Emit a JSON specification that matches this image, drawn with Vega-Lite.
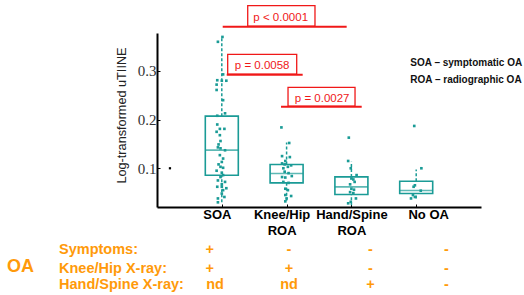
{
  "$schema": "https://vega.github.io/schema/vega-lite/v6.json",
  "width": 324,
  "height": 174,
  "autosize": {"type": "none"},
  "padding": {"left": 157, "top": 33, "right": 43, "bottom": 88},
  "background": "white",
  "config": {"view": {"stroke": null}, "font": "Liberation Sans", "scale": {"continuousPadding": 0}},
  "datasets": {
    "boxes": [
      {"group": "SOA", "x": 1, "lo": 0.0303, "q1": 0.0858, "med": 0.1373, "q3": 0.2072, "hi": 0.3698},
      {"group": "Knee/Hip ROA", "x": 2, "lo": 0.033, "q1": 0.07, "med": 0.0893, "q3": 0.1078, "hi": 0.153},
      {"group": "Hand/Spine ROA", "x": 3, "lo": 0.0241, "q1": 0.0461, "med": 0.0617, "q3": 0.0823, "hi": 0.1132},
      {"group": "No OA", "x": 4, "lo": 0.0379, "q1": 0.0482, "med": 0.0543, "q3": 0.0734, "hi": 0.0976}
    ],
    "points": [
      {"group": "SOA", "x": 1.01, "v": 0.370},
      {"group": "SOA", "x": 0.94, "v": 0.360},
      {"group": "SOA", "x": 1.02, "v": 0.293},
      {"group": "SOA", "x": 0.93, "v": 0.281},
      {"group": "SOA", "x": 1.0, "v": 0.280},
      {"group": "SOA", "x": 1.07, "v": 0.280},
      {"group": "SOA", "x": 0.92, "v": 0.272},
      {"group": "SOA", "x": 0.92, "v": 0.261},
      {"group": "SOA", "x": 1.02, "v": 0.240},
      {"group": "SOA", "x": 1.05, "v": 0.213},
      {"group": "SOA", "x": 0.93, "v": 0.208},
      {"group": "SOA", "x": 0.93, "v": 0.190},
      {"group": "SOA", "x": 0.97, "v": 0.181},
      {"group": "SOA", "x": 1.04, "v": 0.181},
      {"group": "SOA", "x": 0.92, "v": 0.175},
      {"group": "SOA", "x": 0.97, "v": 0.168},
      {"group": "SOA", "x": 0.98, "v": 0.156},
      {"group": "SOA", "x": 0.95, "v": 0.149},
      {"group": "SOA", "x": 0.94, "v": 0.143},
      {"group": "SOA", "x": 0.98, "v": 0.141},
      {"group": "SOA", "x": 1.05, "v": 0.137},
      {"group": "SOA", "x": 0.97, "v": 0.127},
      {"group": "SOA", "x": 1.02, "v": 0.120},
      {"group": "SOA", "x": 1.0, "v": 0.113},
      {"group": "SOA", "x": 0.95, "v": 0.108},
      {"group": "SOA", "x": 0.98, "v": 0.103},
      {"group": "SOA", "x": 1.02, "v": 0.101},
      {"group": "SOA", "x": 0.92, "v": 0.095},
      {"group": "SOA", "x": 1.0, "v": 0.091},
      {"group": "SOA", "x": 1.02, "v": 0.086},
      {"group": "SOA", "x": 0.98, "v": 0.082},
      {"group": "SOA", "x": 0.94, "v": 0.075},
      {"group": "SOA", "x": 1.05, "v": 0.072},
      {"group": "SOA", "x": 1.0, "v": 0.067},
      {"group": "SOA", "x": 0.93, "v": 0.062},
      {"group": "SOA", "x": 1.0, "v": 0.062},
      {"group": "SOA", "x": 1.07, "v": 0.059},
      {"group": "SOA", "x": 1.02, "v": 0.055},
      {"group": "SOA", "x": 1.0, "v": 0.048},
      {"group": "SOA", "x": 1.04, "v": 0.041},
      {"group": "SOA", "x": 0.94, "v": 0.038},
      {"group": "SOA", "x": 0.94, "v": 0.030},
      {"group": "Knee/Hip ROA", "x": 1.92, "v": 0.184},
      {"group": "Knee/Hip ROA", "x": 2.04, "v": 0.152},
      {"group": "Knee/Hip ROA", "x": 1.93, "v": 0.125},
      {"group": "Knee/Hip ROA", "x": 2.05, "v": 0.123},
      {"group": "Knee/Hip ROA", "x": 1.98, "v": 0.115},
      {"group": "Knee/Hip ROA", "x": 1.93, "v": 0.110},
      {"group": "Knee/Hip ROA", "x": 1.97, "v": 0.108},
      {"group": "Knee/Hip ROA", "x": 2.07, "v": 0.106},
      {"group": "Knee/Hip ROA", "x": 2.02, "v": 0.103},
      {"group": "Knee/Hip ROA", "x": 1.95, "v": 0.100},
      {"group": "Knee/Hip ROA", "x": 1.97, "v": 0.093},
      {"group": "Knee/Hip ROA", "x": 2.03, "v": 0.090},
      {"group": "Knee/Hip ROA", "x": 1.93, "v": 0.082},
      {"group": "Knee/Hip ROA", "x": 2.08, "v": 0.084},
      {"group": "Knee/Hip ROA", "x": 1.98, "v": 0.081},
      {"group": "Knee/Hip ROA", "x": 1.95, "v": 0.072},
      {"group": "Knee/Hip ROA", "x": 2.03, "v": 0.070},
      {"group": "Knee/Hip ROA", "x": 1.98, "v": 0.058},
      {"group": "Knee/Hip ROA", "x": 2.02, "v": 0.055},
      {"group": "Knee/Hip ROA", "x": 2.07, "v": 0.043},
      {"group": "Knee/Hip ROA", "x": 1.98, "v": 0.045},
      {"group": "Knee/Hip ROA", "x": 2.0, "v": 0.038},
      {"group": "Knee/Hip ROA", "x": 1.98, "v": 0.032},
      {"group": "Hand/Spine ROA", "x": 2.96, "v": 0.163},
      {"group": "Hand/Spine ROA", "x": 2.95, "v": 0.115},
      {"group": "Hand/Spine ROA", "x": 2.99, "v": 0.100},
      {"group": "Hand/Spine ROA", "x": 3.08, "v": 0.086},
      {"group": "Hand/Spine ROA", "x": 3.0, "v": 0.079},
      {"group": "Hand/Spine ROA", "x": 3.03, "v": 0.077},
      {"group": "Hand/Spine ROA", "x": 3.05, "v": 0.072},
      {"group": "Hand/Spine ROA", "x": 2.98, "v": 0.067},
      {"group": "Hand/Spine ROA", "x": 3.0, "v": 0.058},
      {"group": "Hand/Spine ROA", "x": 3.04, "v": 0.056},
      {"group": "Hand/Spine ROA", "x": 2.98, "v": 0.051},
      {"group": "Hand/Spine ROA", "x": 3.03, "v": 0.049},
      {"group": "Hand/Spine ROA", "x": 3.07, "v": 0.038},
      {"group": "Hand/Spine ROA", "x": 2.99, "v": 0.031},
      {"group": "Hand/Spine ROA", "x": 2.95, "v": 0.028},
      {"group": "No OA", "x": 3.97, "v": 0.187},
      {"group": "No OA", "x": 4.08, "v": 0.100},
      {"group": "No OA", "x": 3.98, "v": 0.065},
      {"group": "No OA", "x": 3.96, "v": 0.062},
      {"group": "No OA", "x": 4.07, "v": 0.054},
      {"group": "No OA", "x": 3.98, "v": 0.041},
      {"group": "No OA", "x": 3.95, "v": 0.045},
      {"group": "No OA", "x": 3.92, "v": 0.038}
    ],
    "stray": [{"x": 0.2, "v": 0.1}],
    "pboxes": [
      {"label": "p < 0.0001", "x1": 1.400, "x2": 2.438, "y1": 0.4342, "y2": 0.3924, "lx1": 1.014, "lx2": 2.927, "ly": 0.3910, "tx": 1.909, "ty": 0.4033},
      {"label": "p = 0.0058", "x1": 1.091, "x2": 2.156, "y1": 0.3342, "y2": 0.2936, "lx1": 1.076, "lx2": 2.248, "ly": 0.2922, "tx": 1.623, "ty": 0.3033},
      {"label": "p = 0.0027", "x1": 2.022, "x2": 3.056, "y1": 0.2663, "y2": 0.2278, "lx1": 1.914, "lx2": 3.159, "ly": 0.2264, "tx": 2.549, "ty": 0.2360}
    ],
    "notes": [
      {"text": "SOA – symptomatic OA", "x": 3.909, "v": 0.3107},
      {"text": "ROA – radiographic OA", "x": 3.909, "v": 0.2745}
    ],
    "rowlabels": [
      {"text": "Symptoms:", "x": -1.512, "v": -0.0767},
      {"text": "Knee/Hip X-ray:", "x": -1.512, "v": -0.1148},
      {"text": "Hand/Spine X-ray:", "x": -1.512, "v": -0.1487}
    ],
    "oa": [{"text": "OA", "x": -2.315, "v": -0.1131}],
    "cells": [
      {"text": "+", "x": 0.813, "v": -0.0767},
      {"text": "+", "x": 0.813, "v": -0.1148},
      {"text": "nd", "x": 0.895, "v": -0.1487},
      {"text": "-", "x": 2.037, "v": -0.0767},
      {"text": "+", "x": 2.037, "v": -0.1148},
      {"text": "nd", "x": 2.037, "v": -0.1487},
      {"text": "-", "x": 3.295, "v": -0.0767},
      {"text": "-", "x": 3.295, "v": -0.1148},
      {"text": "+", "x": 3.295, "v": -0.1487},
      {"text": "-", "x": 4.465, "v": -0.0767},
      {"text": "-", "x": 4.465, "v": -0.1148},
      {"text": "-", "x": 4.465, "v": -0.1487}
    ]
  },
  "layer": [
    {
      "data": {"name": "boxes"},
      "mark": {"type": "rule", "color": "#1a9b96", "strokeWidth": 1.5, "strokeDash": [3, 2]},
      "encoding": {
        "x": {"field": "x", "type": "quantitative", "scale": {"domain": [0, 5], "nice": false, "zero": false, "padding": 0},
          "axis": {"values": [1, 2, 3, 4], "title": null, "domainColor": "black", "domainWidth": 2, "tickColor": "black", "tickSize": -3, "tickWidth": 1, "grid": false,
            "labelExpr": "datum.value == 1 ? 'SOA' : datum.value == 2 ? ['Knee/Hip', 'ROA'] : datum.value == 3 ? ['Hand/Spine', 'ROA'] : 'No OA'",
            "labelFont": "Liberation Sans", "labelFontWeight": "bold", "labelFontSize": 13, "labelColor": "black", "labelPadding": 4, "labelLineHeight": 16, "labelBaseline": "top",
            "labelOffset": {"condition": [{"test": "datum.value == 4", "value": 12}, {"test": "datum.value == 3", "value": 0}], "value": -5}}},
        "y": {"field": "lo", "type": "quantitative", "scale": {"domain": [0.0204, 0.3781], "nice": false, "zero": false, "padding": 0},
          "axis": {"values": [0.1, 0.2, 0.3], "format": ".1f", "title": "Log-transformed uTIINE", "domainColor": "black", "domainWidth": 2, "tickColor": "black", "tickSize": -3, "tickWidth": 1, "grid": false,
            "labelFont": "Liberation Serif", "labelFontSize": 15, "labelColor": "#333333", "labelPadding": 4,
            "titleFont": "Liberation Sans", "titleFontSize": 12.7, "titleFontWeight": "normal", "titleColor": "#222222", "titlePadding": 9, "titleY": 82}},
        "y2": {"field": "q1"}
      }
    },
    {
      "data": {"name": "boxes"},
      "mark": {"type": "rule", "color": "#1a9b96", "strokeWidth": 1.5, "strokeDash": [3, 2]},
      "encoding": {
        "x": {"field": "x", "type": "quantitative"},
        "y": {"field": "q3", "type": "quantitative"},
        "y2": {"field": "hi"}
      }
    },
    {
      "data": {"name": "boxes"},
      "mark": {"type": "bar", "size": 33, "fill": "white", "fillOpacity": 0, "stroke": "#1a9b96", "strokeWidth": 1.6},
      "encoding": {
        "x": {"field": "x", "type": "quantitative"},
        "y": {"field": "q1", "type": "quantitative"},
        "y2": {"field": "q3"}
      }
    },
    {
      "data": {"name": "boxes"},
      "mark": {"type": "tick", "orient": "horizontal", "size": 33, "thickness": 1.6, "color": "#1a9b96"},
      "encoding": {
        "x": {"field": "x", "type": "quantitative"},
        "y": {"field": "med", "type": "quantitative"}
      }
    },
    {
      "data": {"name": "points"},
      "mark": {"type": "square", "size": 7, "filled": true, "opacity": 1, "color": "#1a9b96"},
      "encoding": {
        "x": {"field": "x", "type": "quantitative"},
        "y": {"field": "v", "type": "quantitative"}
      }
    },
    {
      "data": {"name": "stray"},
      "mark": {"type": "square", "size": 5, "filled": true, "opacity": 1, "color": "black"},
      "encoding": {
        "x": {"field": "x", "type": "quantitative"},
        "y": {"field": "v", "type": "quantitative"}
      }
    },
    {
      "data": {"name": "pboxes"},
      "mark": {"type": "rect", "fill": "white", "stroke": "#f01818", "strokeWidth": 1.3},
      "encoding": {
        "x": {"field": "x1", "type": "quantitative"},
        "x2": {"field": "x2"},
        "y": {"field": "y1", "type": "quantitative"},
        "y2": {"field": "y2"}
      }
    },
    {
      "data": {"name": "pboxes"},
      "mark": {"type": "rule", "color": "#f01818", "strokeWidth": 2},
      "encoding": {
        "x": {"field": "lx1", "type": "quantitative"},
        "x2": {"field": "lx2"},
        "y": {"field": "ly", "type": "quantitative"}
      }
    },
    {
      "data": {"name": "pboxes"},
      "mark": {"type": "text", "color": "#f01818", "font": "Liberation Sans", "fontSize": 11.5, "align": "center", "baseline": "alphabetic"},
      "encoding": {
        "x": {"field": "tx", "type": "quantitative"},
        "y": {"field": "ty", "type": "quantitative"},
        "text": {"field": "label"}
      }
    },
    {
      "data": {"name": "notes"},
      "mark": {"type": "text", "color": "#111111", "font": "Liberation Sans", "fontWeight": "bold", "fontSize": 10, "align": "left", "baseline": "alphabetic"},
      "encoding": {
        "x": {"field": "x", "type": "quantitative"},
        "y": {"field": "v", "type": "quantitative"},
        "text": {"field": "text"}
      }
    },
    {
      "data": {"name": "rowlabels"},
      "mark": {"type": "text", "color": "#ff9a0a", "font": "Liberation Sans", "fontWeight": "bold", "fontSize": 14.5, "align": "left", "baseline": "alphabetic"},
      "encoding": {
        "x": {"field": "x", "type": "quantitative"},
        "y": {"field": "v", "type": "quantitative"},
        "text": {"field": "text"}
      }
    },
    {
      "data": {"name": "oa"},
      "mark": {"type": "text", "color": "#ff9a0a", "font": "Liberation Sans", "fontWeight": "bold", "fontSize": 18, "align": "left", "baseline": "alphabetic"},
      "encoding": {
        "x": {"field": "x", "type": "quantitative"},
        "y": {"field": "v", "type": "quantitative"},
        "text": {"field": "text"}
      }
    },
    {
      "data": {"name": "cells"},
      "mark": {"type": "text", "color": "#ff9a0a", "font": "Liberation Sans", "fontWeight": "bold", "fontSize": 14.5, "align": "center", "baseline": "alphabetic"},
      "encoding": {
        "x": {"field": "x", "type": "quantitative"},
        "y": {"field": "v", "type": "quantitative"},
        "text": {"field": "text"}
      }
    }
  ]
}
